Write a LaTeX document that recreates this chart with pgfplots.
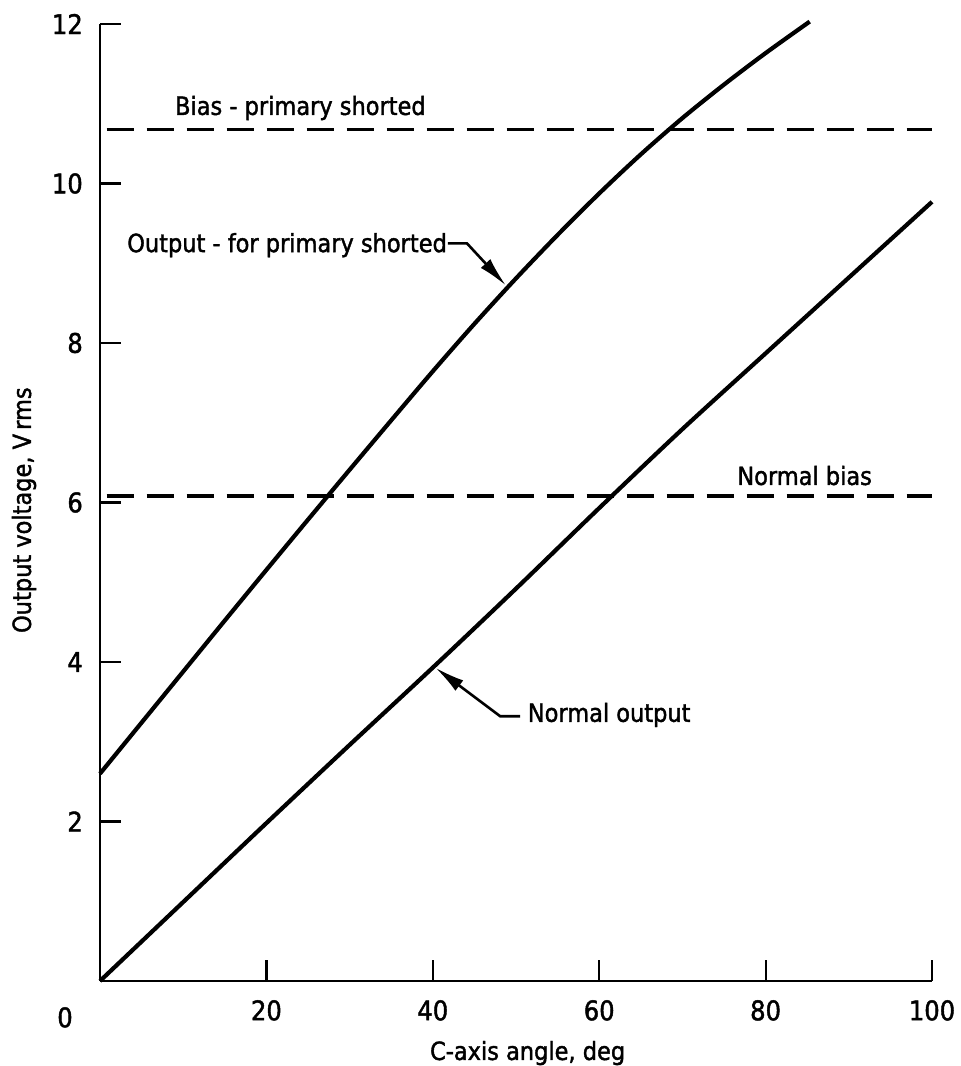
\documentclass[border=0pt]{standalone}
\usepackage{pgfplots}
\pgfplotsset{compat=1.18}
\usepackage{fontspec}
\setmainfont{DejaVu Sans Condensed}[FakeBold=1.6]
\usetikzlibrary{arrows.meta}
\begin{document}
\begin{tikzpicture}[x=1pt,y=1pt]
\useasboundingbox (0,0) rectangle (961,1066);
\begin{axis}[at={(100pt,85pt)}, anchor=south west, scale only axis,
  width=832pt, height=957pt,
  xmin=0, xmax=100, ymin=0, ymax=12,
  axis x line*=bottom, axis y line*=left,
  axis line style={line width=2.8pt, black},
  tick align=inside, major tick length=21pt,
  tick style={line width=2.2pt, black},
  xtick={20,40,60,80,100}, ytick={2,4,...,12},
  /pgf/number format/assume math mode=true,
  ticklabel style={font=\fontsize{27}{30}\selectfont, inner sep=0pt},
  xticklabel style={anchor=north, yshift=-19pt},
  yticklabel style={anchor=east, xshift=-17pt},
  xlabel={C-axis angle, deg},
  ylabel={Output voltage, V\,rms},
  label style={font=\fontsize{25}{28}\selectfont, inner sep=0pt},
  xlabel style={at={(axis description cs:0.514,-0.0825)}, anchor=base},
  ylabel style={at={(axis description cs:-0.083,0.492)}, anchor=base},
  clip=false]
% upper curve: output for primary shorted
\addplot[line width=4.2pt, black, smooth] coordinates {
 (0,2.6) (5,3.24) (10,3.88) (15,4.52) (20,5.155) (25,5.785) (30,6.41) (35,7.03)
 (40,7.645) (45,8.24) (50,8.81) (55,9.355) (60,9.875) (65,10.365) (70,10.82)
 (75,11.24) (80,11.635) (85.3,12.03)};
% lower curve: normal output
\addplot[line width=4.2pt, black, smooth] coordinates {
 (0,0) (10,0.99) (20,1.98) (30,2.96) (40,3.93) (50,4.92) (60,5.93)
 (70,6.92) (80,7.87) (90,8.82) (100,9.77)};
% bias lines
\addplot[line width=3.4pt, black, dash pattern=on 27pt off 13pt] coordinates {(0.8,10.68) (100,10.68)};
\addplot[line width=3.4pt, black, dash pattern=on 27pt off 13pt] coordinates {(0.8,6.08) (100,6.08)};
% labels
\node[anchor=base west, inner sep=0pt, font=\fontsize{25}{28}\selectfont] at (axis cs:9.0,10.86) {Bias - primary shorted};
\node[anchor=base west, inner sep=0pt, font=\fontsize{25}{28}\selectfont] at (axis cs:3.25,9.14) {Output - for primary shorted};
\node[anchor=base west, inner sep=0pt, font=\fontsize{25}{28}\selectfont] at (axis cs:51.4,3.25) {Normal output};
\node[anchor=base east, inner sep=0pt, font=\fontsize{25}{28}\selectfont] at (axis cs:92.8,6.22) {Normal bias};
\node[anchor=north, inner sep=0pt, font=\fontsize{27}{30}\selectfont] at (axis cs:0,0) [xshift=-35pt, yshift=-26pt] {0};
% leaders
\draw[line width=2.6pt, -{Latex[length=30pt,width=13pt]}] (axis cs:41.8,9.25) -- (axis cs:44.1,9.25) -- (axis cs:48.8,8.72);
\draw[line width=2.6pt, -{Latex[length=30pt,width=13pt]}] (axis cs:50.5,3.32) -- (axis cs:48.1,3.32) -- (axis cs:40.3,3.93);
\end{axis}
\end{tikzpicture}
\end{document}
